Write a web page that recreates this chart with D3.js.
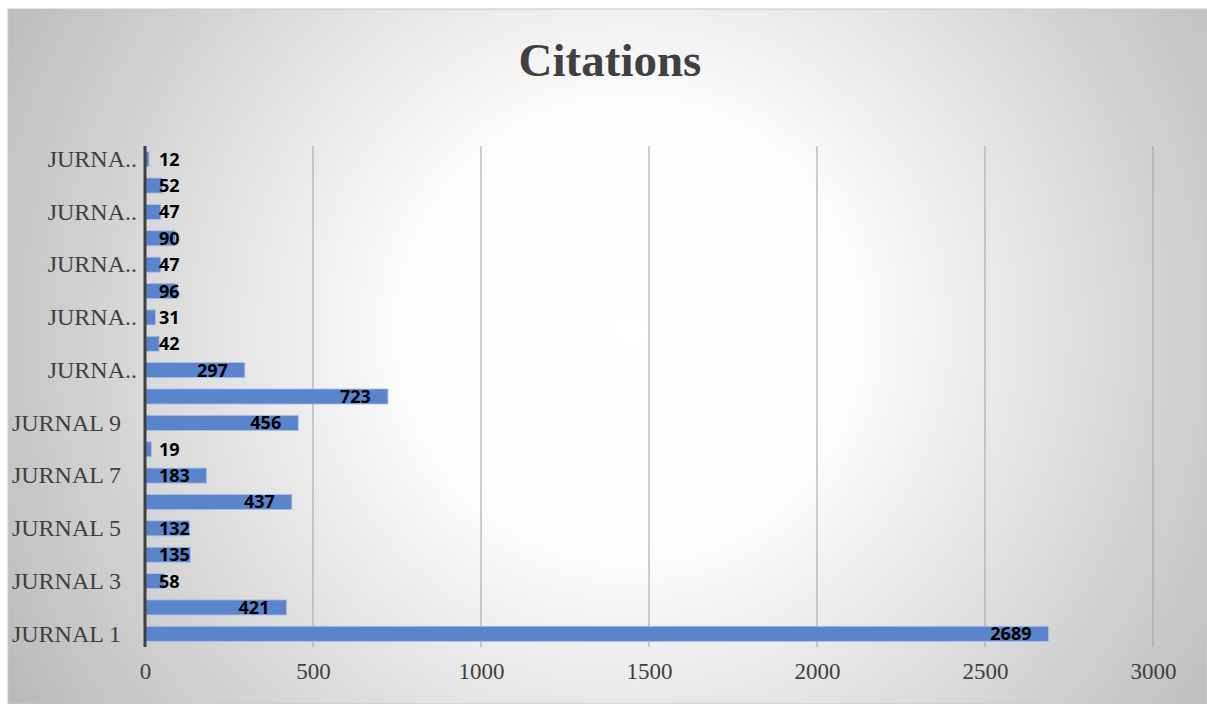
<!DOCTYPE html>
<html><head><meta charset="utf-8">
<script src="https://cdn.jsdelivr.net/npm/d3@7"></script>
<style>body{margin:0;background:#fff;}svg{display:block;}</style>
</head><body>
<svg id="c" width="1207" height="704"></svg>
<script>
const categories = ["JURNAL 1","JURNAL 2","JURNAL 3","JURNAL 4","JURNAL 5","JURNAL 6","JURNAL 7","JURNAL 8","JURNAL 9","JURNAL 10","JURNAL 11","JURNAL 12","JURNAL 13","JURNAL 14","JURNAL 15","JURNAL 16","JURNAL 17","JURNAL 18","JURNAL 19"];
const citations = [2689,421,58,135,132,437,183,19,456,723,297,42,31,96,47,90,47,52,12];
const xTicks = [0,500,1000,1500,2000,2500,3000];
const title = "Citations";

const svg = d3.select("#c");
const defs = svg.append("defs");
const rg = defs.append("radialGradient").attr("id","bg")
  .attr("gradientUnits","userSpaceOnUse").attr("cx",630).attr("cy",330).attr("r",720);
rg.append("stop").attr("offset","0").attr("stop-color","#ffffff");
rg.append("stop").attr("offset","0.3").attr("stop-color","#fdfdfd");
rg.append("stop").attr("offset","1").attr("stop-color","#bababa");

svg.append("rect").attr("x",8).attr("y",9).attr("width",1199).attr("height",695)
  .attr("fill","url(#bg)").attr("stroke","#c8c8c8").attr("stroke-width",1);

const m = {left:145, right:1153, top:146, bottom:647};
const x = d3.scaleLinear().domain([0,3000]).range([m.left,m.right]);
const y = d3.scaleBand().domain(categories.slice().reverse()).range([m.top,m.bottom]).paddingInner(0.43).paddingOuter(0.215);

// gridlines
svg.append("g").selectAll("line").data(xTicks.slice(1)).join("line")
  .attr("x1",d=>x(d)).attr("x2",d=>x(d)).attr("y1",m.top).attr("y2",m.bottom)
  .attr("stroke","#a0a0a0").attr("stroke-width",1);

// title
svg.append("text").attr("x",610).attr("y",76).attr("text-anchor","middle")
  .attr("font-family","Liberation Serif").attr("font-weight","bold").attr("font-size",47)
  .attr("fill","#404040").text(title);

// bars
svg.append("g").selectAll("rect").data(categories).join("rect")
  .attr("x",x(0)).attr("y",d=>y(d)).attr("height",y.bandwidth())
  .attr("width",(d,i)=>x(citations[i])-x(0))
  .attr("fill","#5a84cb").attr("stroke","#a9c0e6").attr("stroke-width",0.8);

// axis line
svg.append("line").attr("x1",x(0)).attr("x2",x(0)).attr("y1",m.top).attr("y2",m.bottom)
  .attr("stroke","#404040").attr("stroke-width",3);

// x tick labels
const xa = svg.append("g").attr("transform",`translate(0,${m.bottom})`)
  .call(d3.axisBottom(x).tickValues(xTicks).tickSize(0).tickPadding(16).tickFormat(d3.format("d")));
xa.select(".domain").remove();
xa.selectAll("text").attr("font-family","Liberation Serif").attr("font-size",23).attr("fill","#404040");

// y category labels (every other, long ones truncated)
const shown = categories.filter((d,i)=>i%2===0);
const ya = svg.append("g").attr("transform",`translate(${m.left},0)`)
  .call(d3.axisLeft(y).tickValues(shown).tickSize(0).tickPadding(8)
    .tickFormat(d=> d.length>8 ? "JURNA.." : d));
ya.select(".domain").remove();
ya.selectAll("text").attr("font-family","Liberation Serif").attr("font-size",24).attr("fill","#404040")
  .attr("dx",d=> d.length>8 ? 0 : -16);

// value labels
const lg = svg.append("g");
categories.forEach((c,i)=>{
  const t = lg.append("text").attr("y",y(c)+y.bandwidth()/2).attr("dy","0.36em")
    .attr("font-family","Open Sans").attr("font-weight","bold").attr("font-size",18)
    .attr("fill","#000").text(citations[i]);
  const w = t.node().getComputedTextLength();
  t.attr("x", Math.max(x(citations[i]) - 17 - w, 159));
});
</script>
</body></html>
